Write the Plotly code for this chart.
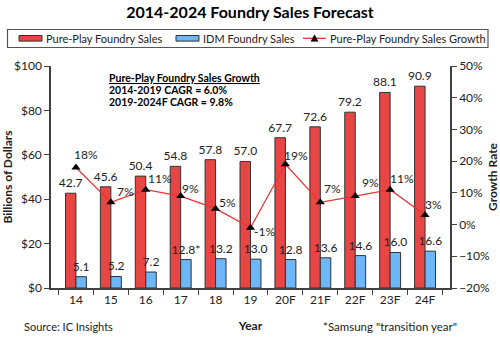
import plotly.graph_objects as go

years = ["14", "15", "16", "17", "18", "19", "20F", "21F", "22F", "23F", "24F"]
pure_play = [42.7, 45.6, 50.4, 54.8, 57.8, 57.0, 67.7, 72.6, 79.2, 88.1, 90.9]
idm = [5.1, 5.2, 7.2, 12.8, 13.2, 13.0, 12.8, 13.6, 14.6, 16.0, 16.6]
idm_labels = ["5.1", "5.2", "7.2", "12.8*", "13.2", "13.0", "12.8", "13.6", "14.6", "16.0", "16.6"]
growth = [18, 7, 11, 9, 5, -1, 19, 7, 9, 11, 3]
# label offsets (px) of growth labels relative to their markers
growth_dx = [10, 15, 14, 10, 12, 14, 11, 12, 15, 12, 8]
growth_dy = [-12.5, -11, -11.5, -8, -6, 4, -9, -14, -14, -11.5, -11]
series_names = ["Pure-Play Foundry Sales", "IDM Foundry Sales", "Pure-Play Foundry Sales Growth"]

FONT = "Lato"
RED = "#E84545"
BLUE = "#6DB6F7"
LINE_RED = "#F03030"
AX = "#404040"

W, H = 500, 338
ML, MR, MT, MB = 51, 50, 66, 50
PW, PH = W - ML - MR, H - MT - MB


def px(x):
    return (x - ML) / PW


def py(y):
    return 1 - (y - MT) / PH


fig = go.Figure()
fig.add_trace(go.Bar(
    x=years, y=pure_play, name=series_names[0],
    marker=dict(color=RED, line=dict(color="#333333", width=1)),
    text=[f"{v:.1f}" for v in pure_play], textposition="outside", constraintext="none",
    textfont=dict(size=12, color="#222222", family=FONT), cliponaxis=False,
))
fig.add_trace(go.Bar(
    x=years, y=idm, name=series_names[1],
    marker=dict(color=BLUE, line=dict(color="#333333", width=1)),
    text=idm_labels, textposition="outside", constraintext="none",
    textfont=dict(size=12, color="#222222", family=FONT), cliponaxis=False,
))
fig.add_trace(go.Scatter(
    x=years, y=growth, name=series_names[2], yaxis="y2",
    mode="lines+markers",
    line=dict(color=LINE_RED, width=1.3),
    marker=dict(symbol="triangle-up", size=8, color="black"),
    cliponaxis=False,
))
# category positions on the x axis are the indices 0..n-1
for i, (g, dx, dy) in enumerate(zip(growth, growth_dx, growth_dy)):
    fig.add_annotation(x=i, y=g, xref="x", yref="y2", text=f"{g}%", showarrow=False,
                       xshift=dx, yshift=-dy, xanchor="center", yanchor="middle",
                       font=dict(size=12, color="#222222", family=FONT))

fig.update_layout(
    width=W, height=H,
    margin=dict(l=ML, r=MR, t=MT, b=MB, autoexpand=False),
    paper_bgcolor="white", plot_bgcolor="white",
    font=dict(family=FONT, size=12, color="#222222"),
    showlegend=False,
    barmode="group", bargap=0.4, bargroupgap=0,
    title=dict(text="<b>2014-2024 Foundry Sales Forecast</b>", x=0.5, xanchor="center",
               y=1 - 12 / H, yanchor="middle", yref="container",
               font=dict(size=16, family=FONT, color="black")),
    xaxis=dict(showline=True, linecolor=AX, linewidth=1.5, ticks="outside", ticklen=5,
               tickcolor=AX, tickson="boundaries", tickfont=dict(size=12), automargin=False,
               tickangle=0, categoryorder="array", categoryarray=years,
               title=dict(text="<b>Year</b>", font=dict(size=12))),
    yaxis=dict(range=[0, 100], dtick=20, tickprefix="$", showgrid=False, zeroline=False,
               showline=True, linecolor=AX, linewidth=1.5, ticks="outside", ticklen=5,
               tickcolor=AX, tickfont=dict(size=12), automargin=False,
               title=dict(text="<b>Billions of Dollars</b>", font=dict(size=12))),
    yaxis2=dict(range=[-20, 50], dtick=10, ticksuffix="%", overlaying="y", side="right",
                showgrid=False, zeroline=False, showline=True, linecolor=AX, linewidth=1.5,
                ticks="outside", ticklen=5, tickcolor=AX, tickfont=dict(size=12), automargin=False,
                title=dict(text="<b>Growth Rate</b>", font=dict(size=12))),
)

# ---- legend drawn as a framed row above the plot ----
ly = 38.3
fig.add_shape(type="rect", xref="paper", yref="paper", x0=px(7.5), x1=px(488), y0=py(29.5), y1=py(47.5),
              line=dict(color="#555555", width=1.2), fillcolor="rgba(0,0,0,0)", layer="above")
for (x0, x1, col, tx, name) in [(19, 42, RED, 43.5, series_names[0]),
                                 (176, 199, BLUE, 200.5, series_names[1])]:
    fig.add_shape(type="rect", xref="paper", yref="paper", x0=px(x0), x1=px(x1),
                  y0=py(ly + 2.8), y1=py(ly - 2.8), fillcolor=col,
                  line=dict(color="#333333", width=1))
    fig.add_annotation(text=name, xref="paper", yref="paper", x=px(tx), y=py(ly),
                       xanchor="left", yanchor="middle", showarrow=False,
                       font=dict(size=11, family=FONT, color="#222222"))
fig.add_shape(type="line", xref="paper", yref="paper", x0=px(303), x1=px(326), y0=py(ly), y1=py(ly),
              line=dict(color=LINE_RED, width=1.3))
tx0, ty0 = 314.5, ly
fig.add_shape(type="path", xref="paper", yref="paper",
              path=f"M {px(tx0 - 3.5)} {py(ty0 + 3)} L {px(tx0 + 3.5)} {py(ty0 + 3)} L {px(tx0)} {py(ty0 - 3.5)} Z",
              fillcolor="black", line=dict(color="black", width=0.5))
fig.add_annotation(text=series_names[2], xref="paper", yref="paper", x=px(328), y=py(ly),
                   xanchor="left", yanchor="middle", showarrow=False,
                   font=dict(size=11, family=FONT, color="#222222"))

notes = [
    ("<u><b>Pure-Play Foundry Sales Growth</b></u>", 78),
    ("<b>2014-2019 CAGR = 6.0%</b>", 90),
    ("<b>2019-2024F CAGR = 9.8%</b>", 101.5),
]
for txt, yy in notes:
    fig.add_annotation(text=txt, xref="paper", yref="paper", x=px(107),
                       y=py(yy), xanchor="left", yanchor="middle",
                       showarrow=False, font=dict(size=10.5, family=FONT, color="black"))

fig.add_annotation(text="Source: IC Insights", xref="paper", yref="paper",
                   x=px(22), y=py(326), xanchor="left", yanchor="middle",
                   showarrow=False, font=dict(size=11, family=FONT, color="#222222"))
fig.add_annotation(text='*Samsung "transition year"', xref="paper", yref="paper",
                   x=px(321), y=py(326), xanchor="left", yanchor="middle",
                   showarrow=False, font=dict(size=11.5, family=FONT, color="#222222"))

fig.write_html("out.html")
